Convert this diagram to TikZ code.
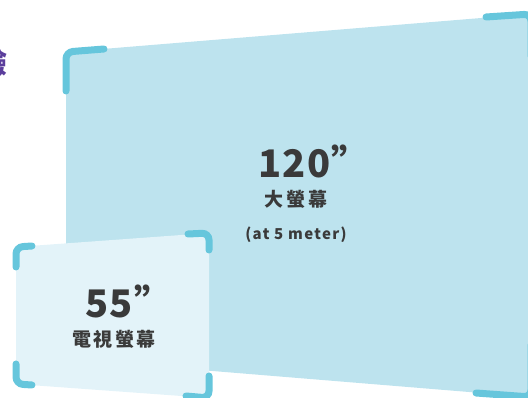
\documentclass[tikz,border=0pt]{standalone}
\usepackage{fontspec}
\setmainfont{Noto Sans CJK TC}
\newfontfamily\cjk{Noto Sans CJK TC}
\newfontfamily\numsp{Noto Sans CJK TC}[LetterSpace=3]
\newfontfamily\cjksp{Noto Sans CJK TC}[LetterSpace=14]
\newfontfamily\latsp{Noto Sans CJK TC}[LetterSpace=9]
\definecolor{bigfill}{HTML}{BDE3EE}
\definecolor{smallfill}{HTML}{E3F3F9}
\definecolor{bracketc}{HTML}{66C6DC}
\definecolor{txt}{HTML}{3A3A3A}
\definecolor{purp}{HTML}{5B3E9C}
\tikzset{
  bracketline/.style={draw=bracketc, line width=7pt, line cap=round, rounded corners=7pt},
  bignum/.style={text=txt, font=\numsp\bfseries\fontsize{38}{40}\selectfont, inner sep=0pt},
  sublabel/.style={text=txt, font=\cjksp\bfseries\fontsize{19}{21}\selectfont, inner sep=0pt},
  meterlabel/.style={text=txt, font=\latsp\bfseries\fontsize{15}{17}\selectfont, inner sep=0pt}
}
\begin{document}
\begin{tikzpicture}[x=1pt,y=-1pt]
\useasboundingbox (0,0) rectangle (528,398);
% big screen
\fill[bigfill] (66,52) -- (530,14) -- (530,397) -- (66,359) -- cycle;
\draw[bracketline] (104,49) -- (66,52) -- (66,91);
\draw[bracketline] (486,17) -- (531,14) -- (531,56);
\draw[bracketline] (476,393) -- (531,397) -- (531,345);
% small screen
\fill[smallfill] (16,247) -- (209,233) -- (209,398) -- (16,384) -- cycle;
\draw[bracketline] (32,246) -- (16,247) -- (16,267);
\draw[bracketline] (188,234) -- (209,233) -- (209,250);
\draw[bracketline] (16,364) -- (16,384) -- (32,385);
\draw[bracketline] (209,376) -- (209,398) -- (186,396);
% texts
\node[bignum] (n120) at (314,161) {120”};
\node[sublabel] (l120) at (296,199) {大螢幕};
\node[meterlabel] (m120) at (296,235) {(at 5 meter)};
\node[bignum] (n55) at (129,301) {55”};
\node[sublabel] (l55) at (114,339) {電視螢幕};
% partially visible purple character
\node[text=purp, font=\cjk\bfseries\fontsize{28}{30}\selectfont, inner sep=0pt, anchor=east] (cut) at (8,63) {驗};
\end{tikzpicture}
\end{document}
